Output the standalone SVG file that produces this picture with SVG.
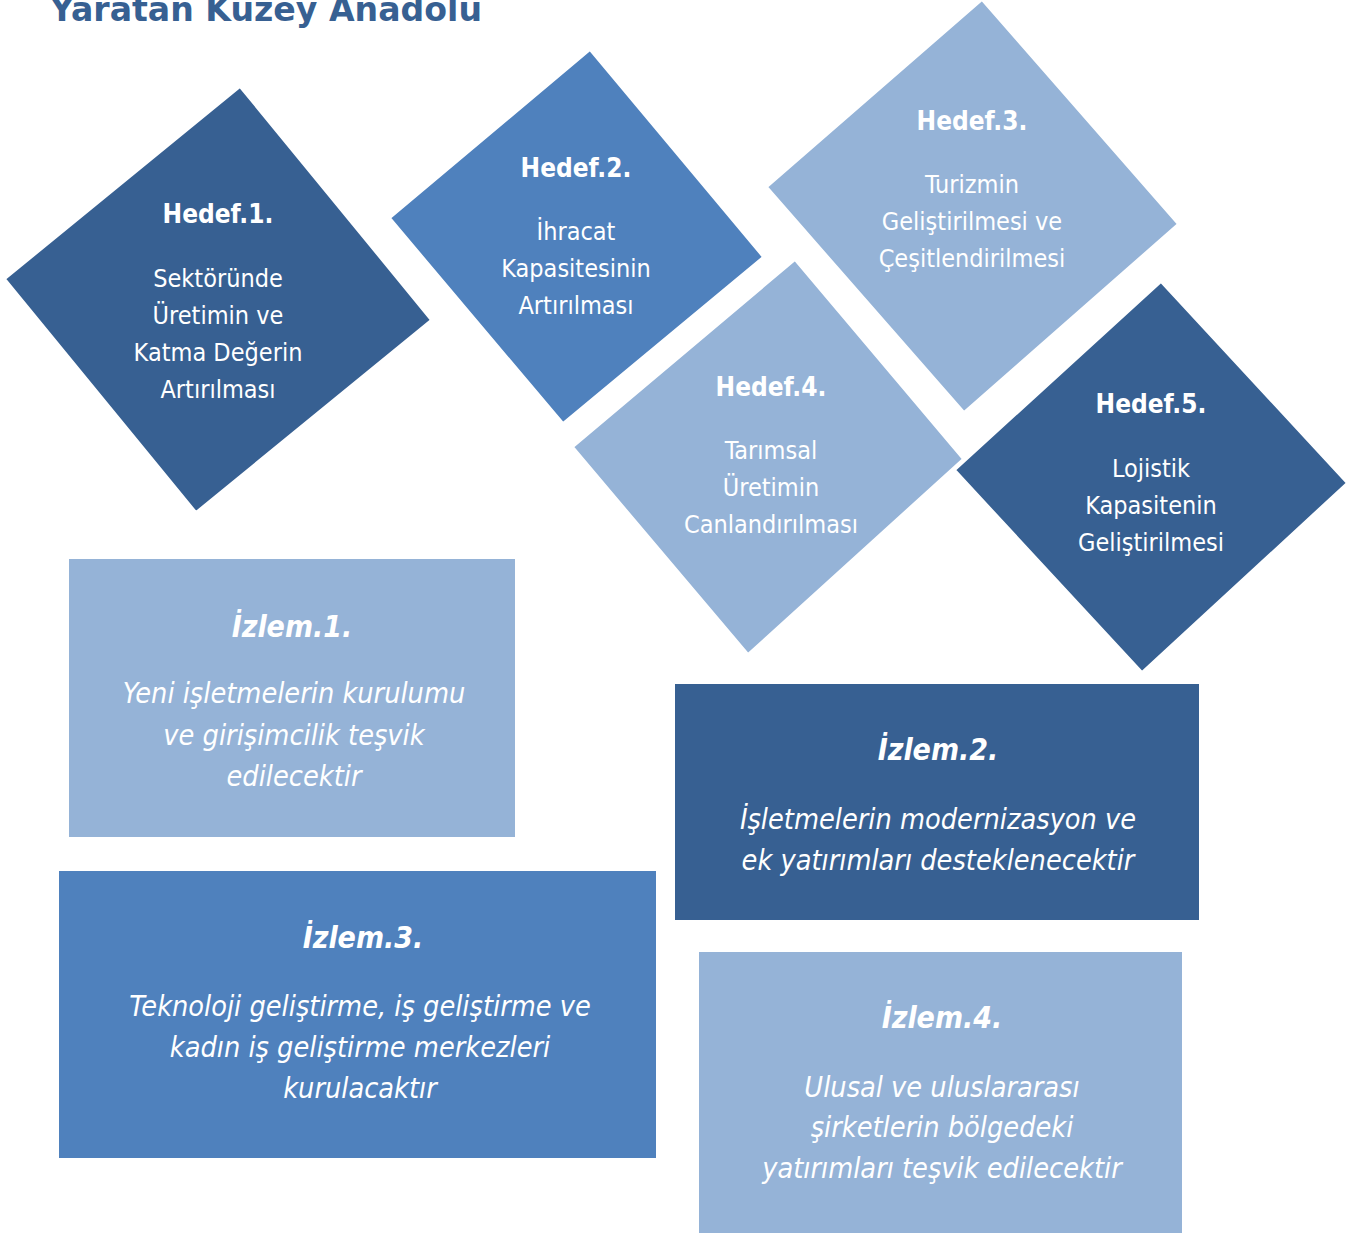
<svg xmlns="http://www.w3.org/2000/svg" width="1357" height="1234" viewBox="0 0 1357 1234">
<style>
.dark{fill:#376092}
.mid{fill:#4F81BD}
.light{fill:#95B3D7}
.dia{stroke:#ffffff;stroke-width:2;stroke-linejoin:miter}
text{fill:#ffffff;text-anchor:middle;font-family:"DejaVu Sans Condensed","DejaVu Sans",sans-serif;font-stretch:condensed}
.h{font-weight:bold;font-size:26px}
.b{font-size:25px}
.ih{font-weight:bold;font-style:italic;font-size:30px}
.ib{font-style:italic;font-size:28.6px}
.title{fill:#376092;text-anchor:start;font-family:"DejaVu Sans",sans-serif;font-weight:bold;font-size:34px;font-stretch:normal}
</style>
<rect width="1357" height="1234" fill="#ffffff"/>
<text class="title" x="50" y="21" textLength="432" lengthAdjust="spacingAndGlyphs">Yaratan Kuzey Anadolu</text>
<g id="connectors"></g>
<g id="hedef1">
<polygon class="dark dia" points="240,87 431,320 196,512 5,279"/>
<text class="h" x="218" y="223">Hedef.1.</text>
<text class="b" x="218" y="287">Sektöründe</text>
<text class="b" x="218" y="324">Üretimin ve</text>
<text class="b" x="218" y="361">Katma Değerin</text>
<text class="b" x="218" y="398">Artırılması</text>
</g>
<g id="hedef2">
<polygon class="mid dia" points="590,50 763,257 563,423 390,218"/>
<text class="h" x="576" y="177">Hedef.2.</text>
<text class="b" x="576" y="240">İhracat</text>
<text class="b" x="576" y="277">Kapasitesinin</text>
<text class="b" x="576" y="314">Artırılması</text>
</g>
<g id="hedef3">
<polygon class="light dia" points="982,0 1178,224 964,412 767,187"/>
<text class="h" x="972" y="130">Hedef.3.</text>
<text class="b" x="972" y="193">Turizmin</text>
<text class="b" x="972" y="230">Geliştirilmesi ve</text>
<text class="b" x="972" y="267">Çeşitlendirilmesi</text>
</g>
<g id="hedef4">
<polygon class="light dia" points="795,260 963,459 748,654 573,447"/>
<text class="h" x="771" y="396">Hedef.4.</text>
<text class="b" x="771" y="459">Tarımsal</text>
<text class="b" x="771" y="496">Üretimin</text>
<text class="b" x="771" y="533">Canlandırılması</text>
</g>
<g id="hedef5">
<polygon class="dark dia" points="1161,282 1347,483 1142,672 955,470"/>
<text class="h" x="1151" y="413">Hedef.5.</text>
<text class="b" x="1151" y="477">Lojistik</text>
<text class="b" x="1151" y="514">Kapasitenin</text>
<text class="b" x="1151" y="551">Geliştirilmesi</text>
</g>
<g id="izlem1">
<rect class="light" x="69" y="559" width="446" height="278"/>
<text class="ih" x="292" y="637">İzlem.1.</text>
<text class="ib" x="294" y="703">Yeni işletmelerin kurulumu</text>
<text class="ib" x="294" y="745">ve girişimcilik teşvik</text>
<text class="ib" x="294" y="786">edilecektir</text>
</g>
<g id="izlem2">
<rect class="dark" x="675" y="684" width="524" height="236"/>
<text class="ih" x="938" y="760">İzlem.2.</text>
<text class="ib" x="938" y="829">İşletmelerin modernizasyon ve</text>
<text class="ib" x="938" y="870">ek yatırımları desteklenecektir</text>
</g>
<g id="izlem3">
<rect class="mid" x="59" y="871" width="597" height="287"/>
<text class="ih" x="363" y="948">İzlem.3.</text>
<text class="ib" x="360" y="1016">Teknoloji geliştirme, iş geliştirme ve</text>
<text class="ib" x="360" y="1057">kadın iş geliştirme merkezleri</text>
<text class="ib" x="360" y="1098">kurulacaktır</text>
</g>
<g id="izlem4">
<rect class="light" x="699" y="952" width="483" height="281"/>
<text class="ih" x="942" y="1028">İzlem.4.</text>
<text class="ib" x="942" y="1097">Ulusal ve uluslararası</text>
<text class="ib" x="942" y="1137">şirketlerin bölgedeki</text>
<text class="ib" x="942" y="1178">yatırımları teşvik edilecektir</text>
</g>
</svg>
